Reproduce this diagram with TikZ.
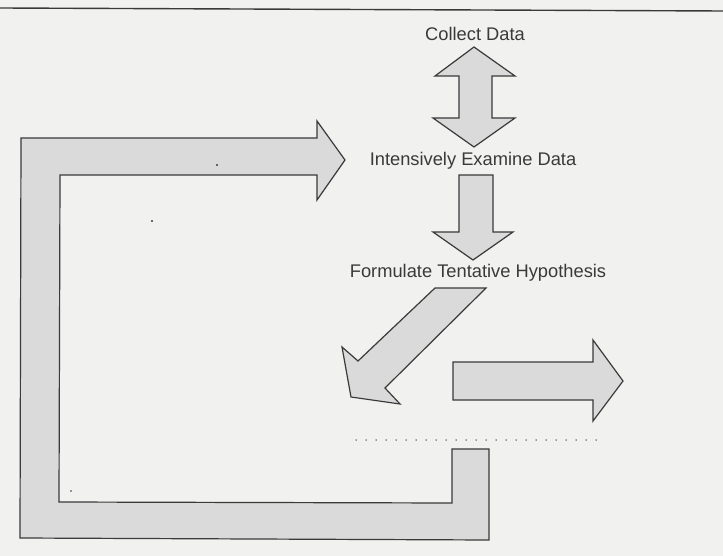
\documentclass[tikz,border=0pt]{standalone}
\usepackage{fontspec}
\setmainfont{Liberation Sans}
\definecolor{paper}{HTML}{F1F1EF}
\definecolor{blockfill}{HTML}{DADADA}
\definecolor{ink}{HTML}{3A3A3A}
\tikzset{
  blockarrow/.style={draw=ink, fill=blockfill, line width=1.2pt, line join=miter},
  label/.style={text=ink, font=\fontsize{18.3}{21}\selectfont, inner sep=0pt},
  speck/.style={fill=ink, draw=none}
}
\begin{document}
\begin{tikzpicture}[x=1pt,y=-1pt]
\fill[paper] (0,0) rectangle (723,556);
\useasboundingbox (0,0) rectangle (723,556);
% top rule
\draw[ink, line width=1.4pt] (0,8) -- (723,11);
% big feedback bracket arrow
\draw[blockarrow] (21,138) -- (317,138) -- (317,121) -- (345,160) -- (317,200) -- (317,175)
  -- (60,175) -- (59,502) -- (452,503) -- (452,449) -- (489,449) -- (489,540) -- (20,538) -- cycle;
% double arrow
\draw[blockarrow] (474,47) -- (515,76) -- (492,76) -- (492,118) -- (515,118) -- (474,147)
  -- (433,118) -- (459,118) -- (459,76) -- (435,76) -- cycle;
% down arrow
\draw[blockarrow] (459,175) -- (493,175) -- (493,232) -- (513,232) -- (473,260) -- (433,232) -- (459,232) -- cycle;
% diagonal arrow
\draw[blockarrow] (435,288) -- (486,288) -- (385,388) -- (400,404) -- (351,397) -- (342,347) -- (358,361) -- cycle;
% right arrow
\draw[blockarrow] (453,362) -- (593,362) -- (593,340) -- (623,381) -- (593,421) -- (593,400) -- (453,400) -- cycle;
% dotted line
\coordinate (dotA) at (356,440);
\coordinate (dotB) at (602,440);
\draw[ink, line width=1.5pt, dash pattern=on 0pt off 10pt, line cap=round] (dotA) -- (dotB);
% labels
\node[label] (collect) at (475,34) {Collect Data};
\node[label] (examine) at (473,161) {Intensively Examine Data};
\node[label] (formulate) at (478,273) {Formulate Tentative Hypothesis};
% specks
\fill[speck] (217,165) circle (1.1);
\fill[speck] (152,221) circle (1.1);
\fill[speck] (71,491) circle (0.8);
\end{tikzpicture}
\end{document}
